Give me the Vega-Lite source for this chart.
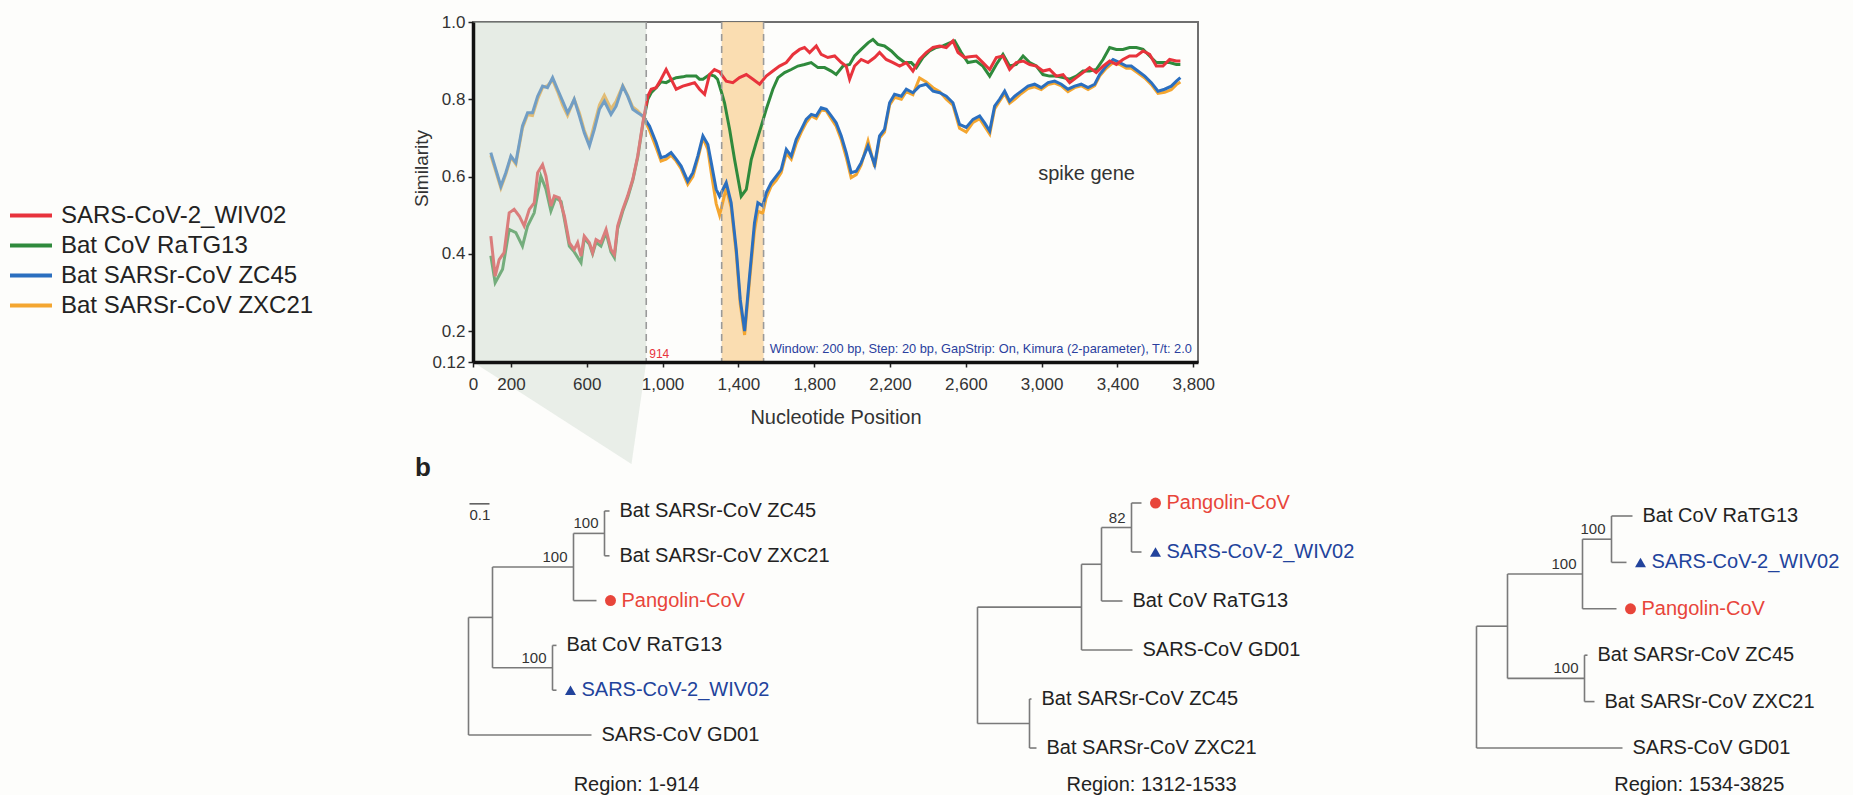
{
"$schema": "https://vega.github.io/schema/vega-lite/v6.json",
"background": "#fdfdfb",
"padding": {"left": 18, "top": 12, "right": 0, "bottom": 0},
"config": {"font": "Liberation Sans", "view": {"stroke": null}, "title": {"font": "Liberation Sans", "color": "#222", "fontWeight": "normal"}, "axisY": {"titleY": 146}},
"bounds": "flush",
"spacing": 119,
"resolve": {"scale": {"color": "independent", "x": "independent", "y": "independent", "shape": "independent"}, "legend": {"color": "independent", "shape": "independent"}},
"datasets": {
"sim": [
{"s":"SARS-CoV-2_WIV02","p":94,"v":0.446},{"s":"SARS-CoV-2_WIV02","p":117,"v":0.342},{"s":"SARS-CoV-2_WIV02","p":138,"v":0.385},{"s":"SARS-CoV-2_WIV02","p":164,"v":0.403},{"s":"SARS-CoV-2_WIV02","p":191,"v":0.506},{"s":"SARS-CoV-2_WIV02","p":217,"v":0.515},{"s":"SARS-CoV-2_WIV02","p":244,"v":0.498},{"s":"SARS-CoV-2_WIV02","p":270,"v":0.472},{"s":"SARS-CoV-2_WIV02","p":297,"v":0.515},{"s":"SARS-CoV-2_WIV02","p":323,"v":0.532},{"s":"SARS-CoV-2_WIV02","p":341,"v":0.61},{"s":"SARS-CoV-2_WIV02","p":367,"v":0.631},{"s":"SARS-CoV-2_WIV02","p":385,"v":0.601},{"s":"SARS-CoV-2_WIV02","p":411,"v":0.524},{"s":"SARS-CoV-2_WIV02","p":429,"v":0.55},{"s":"SARS-CoV-2_WIV02","p":455,"v":0.545},{"s":"SARS-CoV-2_WIV02","p":482,"v":0.498},{"s":"SARS-CoV-2_WIV02","p":508,"v":0.429},{"s":"SARS-CoV-2_WIV02","p":534,"v":0.411},{"s":"SARS-CoV-2_WIV02","p":552,"v":0.429},{"s":"SARS-CoV-2_WIV02","p":570,"v":0.394},{"s":"SARS-CoV-2_WIV02","p":587,"v":0.446},{"s":"SARS-CoV-2_WIV02","p":614,"v":0.429},{"s":"SARS-CoV-2_WIV02","p":631,"v":0.403},{"s":"SARS-CoV-2_WIV02","p":649,"v":0.437},{"s":"SARS-CoV-2_WIV02","p":675,"v":0.429},{"s":"SARS-CoV-2_WIV02","p":702,"v":0.463},{"s":"SARS-CoV-2_WIV02","p":728,"v":0.411},{"s":"SARS-CoV-2_WIV02","p":746,"v":0.398},{"s":"SARS-CoV-2_WIV02","p":763,"v":0.472},{"s":"SARS-CoV-2_WIV02","p":790,"v":0.515},{"s":"SARS-CoV-2_WIV02","p":816,"v":0.55},{"s":"SARS-CoV-2_WIV02","p":843,"v":0.593},{"s":"SARS-CoV-2_WIV02","p":869,"v":0.653},{"s":"SARS-CoV-2_WIV02","p":896,"v":0.739},{"s":"SARS-CoV-2_WIV02","p":922,"v":0.808},{"s":"SARS-CoV-2_WIV02","p":940,"v":0.826},{"s":"SARS-CoV-2_WIV02","p":966,"v":0.83},{"s":"SARS-CoV-2_WIV02","p":992,"v":0.852},{"s":"SARS-CoV-2_WIV02","p":1019,"v":0.877},{"s":"SARS-CoV-2_WIV02","p":1045,"v":0.852},{"s":"SARS-CoV-2_WIV02","p":1072,"v":0.826},{"s":"SARS-CoV-2_WIV02","p":1107,"v":0.834},{"s":"SARS-CoV-2_WIV02","p":1142,"v":0.839},{"s":"SARS-CoV-2_WIV02","p":1169,"v":0.843},{"s":"SARS-CoV-2_WIV02","p":1195,"v":0.826},{"s":"SARS-CoV-2_WIV02","p":1222,"v":0.813},{"s":"SARS-CoV-2_WIV02","p":1248,"v":0.864},{"s":"SARS-CoV-2_WIV02","p":1274,"v":0.877},{"s":"SARS-CoV-2_WIV02","p":1301,"v":0.871},{"s":"SARS-CoV-2_WIV02","p":1336,"v":0.847},{"s":"SARS-CoV-2_WIV02","p":1371,"v":0.843},{"s":"SARS-CoV-2_WIV02","p":1406,"v":0.856},{"s":"SARS-CoV-2_WIV02","p":1442,"v":0.864},{"s":"SARS-CoV-2_WIV02","p":1477,"v":0.852},{"s":"SARS-CoV-2_WIV02","p":1512,"v":0.839},{"s":"SARS-CoV-2_WIV02","p":1547,"v":0.86},{"s":"SARS-CoV-2_WIV02","p":1582,"v":0.873},{"s":"SARS-CoV-2_WIV02","p":1617,"v":0.886},{"s":"SARS-CoV-2_WIV02","p":1653,"v":0.895},{"s":"SARS-CoV-2_WIV02","p":1688,"v":0.916},{"s":"SARS-CoV-2_WIV02","p":1723,"v":0.929},{"s":"SARS-CoV-2_WIV02","p":1749,"v":0.934},{"s":"SARS-CoV-2_WIV02","p":1776,"v":0.921},{"s":"SARS-CoV-2_WIV02","p":1811,"v":0.938},{"s":"SARS-CoV-2_WIV02","p":1837,"v":0.916},{"s":"SARS-CoV-2_WIV02","p":1872,"v":0.908},{"s":"SARS-CoV-2_WIV02","p":1908,"v":0.912},{"s":"SARS-CoV-2_WIV02","p":1943,"v":0.895},{"s":"SARS-CoV-2_WIV02","p":1969,"v":0.886},{"s":"SARS-CoV-2_WIV02","p":1987,"v":0.852},{"s":"SARS-CoV-2_WIV02","p":2013,"v":0.886},{"s":"SARS-CoV-2_WIV02","p":2048,"v":0.903},{"s":"SARS-CoV-2_WIV02","p":2084,"v":0.895},{"s":"SARS-CoV-2_WIV02","p":2119,"v":0.908},{"s":"SARS-CoV-2_WIV02","p":2145,"v":0.921},{"s":"SARS-CoV-2_WIV02","p":2180,"v":0.903},{"s":"SARS-CoV-2_WIV02","p":2216,"v":0.895},{"s":"SARS-CoV-2_WIV02","p":2251,"v":0.886},{"s":"SARS-CoV-2_WIV02","p":2286,"v":0.895},{"s":"SARS-CoV-2_WIV02","p":2321,"v":0.873},{"s":"SARS-CoV-2_WIV02","p":2356,"v":0.903},{"s":"SARS-CoV-2_WIV02","p":2391,"v":0.921},{"s":"SARS-CoV-2_WIV02","p":2427,"v":0.934},{"s":"SARS-CoV-2_WIV02","p":2462,"v":0.938},{"s":"SARS-CoV-2_WIV02","p":2497,"v":0.934},{"s":"SARS-CoV-2_WIV02","p":2532,"v":0.951},{"s":"SARS-CoV-2_WIV02","p":2559,"v":0.921},{"s":"SARS-CoV-2_WIV02","p":2594,"v":0.908},{"s":"SARS-CoV-2_WIV02","p":2620,"v":0.91},{"s":"SARS-CoV-2_WIV02","p":2655,"v":0.912},{"s":"SARS-CoV-2_WIV02","p":2690,"v":0.895},{"s":"SARS-CoV-2_WIV02","p":2726,"v":0.877},{"s":"SARS-CoV-2_WIV02","p":2761,"v":0.908},{"s":"SARS-CoV-2_WIV02","p":2796,"v":0.912},{"s":"SARS-CoV-2_WIV02","p":2831,"v":0.877},{"s":"SARS-CoV-2_WIV02","p":2866,"v":0.895},{"s":"SARS-CoV-2_WIV02","p":2902,"v":0.899},{"s":"SARS-CoV-2_WIV02","p":2937,"v":0.89},{"s":"SARS-CoV-2_WIV02","p":2972,"v":0.886},{"s":"SARS-CoV-2_WIV02","p":3007,"v":0.873},{"s":"SARS-CoV-2_WIV02","p":3042,"v":0.877},{"s":"SARS-CoV-2_WIV02","p":3077,"v":0.86},{"s":"SARS-CoV-2_WIV02","p":3113,"v":0.864},{"s":"SARS-CoV-2_WIV02","p":3148,"v":0.843},{"s":"SARS-CoV-2_WIV02","p":3183,"v":0.856},{"s":"SARS-CoV-2_WIV02","p":3218,"v":0.869},{"s":"SARS-CoV-2_WIV02","p":3253,"v":0.882},{"s":"SARS-CoV-2_WIV02","p":3288,"v":0.869},{"s":"SARS-CoV-2_WIV02","p":3324,"v":0.886},{"s":"SARS-CoV-2_WIV02","p":3359,"v":0.899},{"s":"SARS-CoV-2_WIV02","p":3394,"v":0.89},{"s":"SARS-CoV-2_WIV02","p":3429,"v":0.903},{"s":"SARS-CoV-2_WIV02","p":3464,"v":0.912},{"s":"SARS-CoV-2_WIV02","p":3500,"v":0.912},{"s":"SARS-CoV-2_WIV02","p":3535,"v":0.925},{"s":"SARS-CoV-2_WIV02","p":3570,"v":0.916},{"s":"SARS-CoV-2_WIV02","p":3605,"v":0.886},{"s":"SARS-CoV-2_WIV02","p":3640,"v":0.886},{"s":"SARS-CoV-2_WIV02","p":3675,"v":0.903},{"s":"SARS-CoV-2_WIV02","p":3711,"v":0.899},{"s":"SARS-CoV-2_WIV02","p":3732,"v":0.899},
{"s":"Bat CoV RaTG13","p":94,"v":0.395},{"s":"Bat CoV RaTG13","p":117,"v":0.325},{"s":"Bat CoV RaTG13","p":156,"v":0.36},{"s":"Bat CoV RaTG13","p":191,"v":0.463},{"s":"Bat CoV RaTG13","p":226,"v":0.455},{"s":"Bat CoV RaTG13","p":261,"v":0.42},{"s":"Bat CoV RaTG13","p":288,"v":0.472},{"s":"Bat CoV RaTG13","p":323,"v":0.506},{"s":"Bat CoV RaTG13","p":358,"v":0.601},{"s":"Bat CoV RaTG13","p":385,"v":0.567},{"s":"Bat CoV RaTG13","p":411,"v":0.511},{"s":"Bat CoV RaTG13","p":437,"v":0.545},{"s":"Bat CoV RaTG13","p":465,"v":0.535},{"s":"Bat CoV RaTG13","p":482,"v":0.49},{"s":"Bat CoV RaTG13","p":508,"v":0.42},{"s":"Bat CoV RaTG13","p":534,"v":0.405},{"s":"Bat CoV RaTG13","p":570,"v":0.377},{"s":"Bat CoV RaTG13","p":587,"v":0.44},{"s":"Bat CoV RaTG13","p":614,"v":0.425},{"s":"Bat CoV RaTG13","p":631,"v":0.4},{"s":"Bat CoV RaTG13","p":649,"v":0.43},{"s":"Bat CoV RaTG13","p":675,"v":0.42},{"s":"Bat CoV RaTG13","p":702,"v":0.455},{"s":"Bat CoV RaTG13","p":728,"v":0.405},{"s":"Bat CoV RaTG13","p":746,"v":0.39},{"s":"Bat CoV RaTG13","p":763,"v":0.465},{"s":"Bat CoV RaTG13","p":790,"v":0.51},{"s":"Bat CoV RaTG13","p":816,"v":0.545},{"s":"Bat CoV RaTG13","p":843,"v":0.59},{"s":"Bat CoV RaTG13","p":869,"v":0.65},{"s":"Bat CoV RaTG13","p":896,"v":0.735},{"s":"Bat CoV RaTG13","p":922,"v":0.8},{"s":"Bat CoV RaTG13","p":940,"v":0.817},{"s":"Bat CoV RaTG13","p":966,"v":0.83},{"s":"Bat CoV RaTG13","p":992,"v":0.845},{"s":"Bat CoV RaTG13","p":1019,"v":0.843},{"s":"Bat CoV RaTG13","p":1045,"v":0.85},{"s":"Bat CoV RaTG13","p":1072,"v":0.856},{"s":"Bat CoV RaTG13","p":1107,"v":0.858},{"s":"Bat CoV RaTG13","p":1125,"v":0.86},{"s":"Bat CoV RaTG13","p":1160,"v":0.86},{"s":"Bat CoV RaTG13","p":1177,"v":0.86},{"s":"Bat CoV RaTG13","p":1195,"v":0.852},{"s":"Bat CoV RaTG13","p":1213,"v":0.852},{"s":"Bat CoV RaTG13","p":1248,"v":0.864},{"s":"Bat CoV RaTG13","p":1274,"v":0.86},{"s":"Bat CoV RaTG13","p":1290,"v":0.852},{"s":"Bat CoV RaTG13","p":1310,"v":0.82},{"s":"Bat CoV RaTG13","p":1327,"v":0.791},{"s":"Bat CoV RaTG13","p":1354,"v":0.722},{"s":"Bat CoV RaTG13","p":1380,"v":0.644},{"s":"Bat CoV RaTG13","p":1415,"v":0.549},{"s":"Bat CoV RaTG13","p":1442,"v":0.567},{"s":"Bat CoV RaTG13","p":1468,"v":0.644},{"s":"Bat CoV RaTG13","p":1494,"v":0.688},{"s":"Bat CoV RaTG13","p":1521,"v":0.731},{"s":"Bat CoV RaTG13","p":1547,"v":0.774},{"s":"Bat CoV RaTG13","p":1582,"v":0.826},{"s":"Bat CoV RaTG13","p":1609,"v":0.856},{"s":"Bat CoV RaTG13","p":1644,"v":0.869},{"s":"Bat CoV RaTG13","p":1679,"v":0.877},{"s":"Bat CoV RaTG13","p":1714,"v":0.886},{"s":"Bat CoV RaTG13","p":1749,"v":0.89},{"s":"Bat CoV RaTG13","p":1784,"v":0.895},{"s":"Bat CoV RaTG13","p":1820,"v":0.882},{"s":"Bat CoV RaTG13","p":1855,"v":0.882},{"s":"Bat CoV RaTG13","p":1890,"v":0.873},{"s":"Bat CoV RaTG13","p":1916,"v":0.864},{"s":"Bat CoV RaTG13","p":1952,"v":0.886},{"s":"Bat CoV RaTG13","p":1987,"v":0.89},{"s":"Bat CoV RaTG13","p":2013,"v":0.912},{"s":"Bat CoV RaTG13","p":2048,"v":0.929},{"s":"Bat CoV RaTG13","p":2084,"v":0.946},{"s":"Bat CoV RaTG13","p":2110,"v":0.955},{"s":"Bat CoV RaTG13","p":2136,"v":0.942},{"s":"Bat CoV RaTG13","p":2171,"v":0.938},{"s":"Bat CoV RaTG13","p":2207,"v":0.925},{"s":"Bat CoV RaTG13","p":2242,"v":0.908},{"s":"Bat CoV RaTG13","p":2277,"v":0.895},{"s":"Bat CoV RaTG13","p":2312,"v":0.895},{"s":"Bat CoV RaTG13","p":2339,"v":0.882},{"s":"Bat CoV RaTG13","p":2374,"v":0.908},{"s":"Bat CoV RaTG13","p":2409,"v":0.925},{"s":"Bat CoV RaTG13","p":2444,"v":0.934},{"s":"Bat CoV RaTG13","p":2479,"v":0.938},{"s":"Bat CoV RaTG13","p":2515,"v":0.946},{"s":"Bat CoV RaTG13","p":2541,"v":0.951},{"s":"Bat CoV RaTG13","p":2576,"v":0.921},{"s":"Bat CoV RaTG13","p":2611,"v":0.895},{"s":"Bat CoV RaTG13","p":2655,"v":0.899},{"s":"Bat CoV RaTG13","p":2690,"v":0.886},{"s":"Bat CoV RaTG13","p":2726,"v":0.86},{"s":"Bat CoV RaTG13","p":2761,"v":0.89},{"s":"Bat CoV RaTG13","p":2796,"v":0.916},{"s":"Bat CoV RaTG13","p":2831,"v":0.886},{"s":"Bat CoV RaTG13","p":2866,"v":0.89},{"s":"Bat CoV RaTG13","p":2902,"v":0.912},{"s":"Bat CoV RaTG13","p":2937,"v":0.895},{"s":"Bat CoV RaTG13","p":2972,"v":0.886},{"s":"Bat CoV RaTG13","p":3007,"v":0.864},{"s":"Bat CoV RaTG13","p":3042,"v":0.86},{"s":"Bat CoV RaTG13","p":3077,"v":0.86},{"s":"Bat CoV RaTG13","p":3113,"v":0.856},{"s":"Bat CoV RaTG13","p":3148,"v":0.852},{"s":"Bat CoV RaTG13","p":3183,"v":0.86},{"s":"Bat CoV RaTG13","p":3218,"v":0.873},{"s":"Bat CoV RaTG13","p":3253,"v":0.873},{"s":"Bat CoV RaTG13","p":3288,"v":0.877},{"s":"Bat CoV RaTG13","p":3324,"v":0.903},{"s":"Bat CoV RaTG13","p":3359,"v":0.934},{"s":"Bat CoV RaTG13","p":3394,"v":0.929},{"s":"Bat CoV RaTG13","p":3429,"v":0.929},{"s":"Bat CoV RaTG13","p":3464,"v":0.934},{"s":"Bat CoV RaTG13","p":3500,"v":0.934},{"s":"Bat CoV RaTG13","p":3535,"v":0.929},{"s":"Bat CoV RaTG13","p":3570,"v":0.912},{"s":"Bat CoV RaTG13","p":3605,"v":0.895},{"s":"Bat CoV RaTG13","p":3640,"v":0.895},{"s":"Bat CoV RaTG13","p":3675,"v":0.895},{"s":"Bat CoV RaTG13","p":3711,"v":0.89},{"s":"Bat CoV RaTG13","p":3732,"v":0.89},
{"s":"Bat SARSr-CoV ZC45","p":94,"v":0.662},{"s":"Bat SARSr-CoV ZC45","p":147,"v":0.575},{"s":"Bat SARSr-CoV ZC45","p":173,"v":0.61},{"s":"Bat SARSr-CoV ZC45","p":200,"v":0.653},{"s":"Bat SARSr-CoV ZC45","p":226,"v":0.636},{"s":"Bat SARSr-CoV ZC45","p":261,"v":0.731},{"s":"Bat SARSr-CoV ZC45","p":288,"v":0.765},{"s":"Bat SARSr-CoV ZC45","p":314,"v":0.765},{"s":"Bat SARSr-CoV ZC45","p":341,"v":0.808},{"s":"Bat SARSr-CoV ZC45","p":367,"v":0.834},{"s":"Bat SARSr-CoV ZC45","p":393,"v":0.83},{"s":"Bat SARSr-CoV ZC45","p":420,"v":0.856},{"s":"Bat SARSr-CoV ZC45","p":446,"v":0.826},{"s":"Bat SARSr-CoV ZC45","p":473,"v":0.795},{"s":"Bat SARSr-CoV ZC45","p":499,"v":0.765},{"s":"Bat SARSr-CoV ZC45","p":517,"v":0.782},{"s":"Bat SARSr-CoV ZC45","p":534,"v":0.8},{"s":"Bat SARSr-CoV ZC45","p":561,"v":0.757},{"s":"Bat SARSr-CoV ZC45","p":587,"v":0.713},{"s":"Bat SARSr-CoV ZC45","p":614,"v":0.679},{"s":"Bat SARSr-CoV ZC45","p":640,"v":0.722},{"s":"Bat SARSr-CoV ZC45","p":667,"v":0.774},{"s":"Bat SARSr-CoV ZC45","p":693,"v":0.795},{"s":"Bat SARSr-CoV ZC45","p":728,"v":0.761},{"s":"Bat SARSr-CoV ZC45","p":755,"v":0.782},{"s":"Bat SARSr-CoV ZC45","p":790,"v":0.834},{"s":"Bat SARSr-CoV ZC45","p":816,"v":0.808},{"s":"Bat SARSr-CoV ZC45","p":843,"v":0.774},{"s":"Bat SARSr-CoV ZC45","p":869,"v":0.765},{"s":"Bat SARSr-CoV ZC45","p":896,"v":0.757},{"s":"Bat SARSr-CoV ZC45","p":931,"v":0.731},{"s":"Bat SARSr-CoV ZC45","p":966,"v":0.688},{"s":"Bat SARSr-CoV ZC45","p":992,"v":0.649},{"s":"Bat SARSr-CoV ZC45","p":1019,"v":0.653},{"s":"Bat SARSr-CoV ZC45","p":1045,"v":0.662},{"s":"Bat SARSr-CoV ZC45","p":1072,"v":0.645},{"s":"Bat SARSr-CoV ZC45","p":1098,"v":0.627},{"s":"Bat SARSr-CoV ZC45","p":1133,"v":0.588},{"s":"Bat SARSr-CoV ZC45","p":1160,"v":0.61},{"s":"Bat SARSr-CoV ZC45","p":1186,"v":0.653},{"s":"Bat SARSr-CoV ZC45","p":1213,"v":0.705},{"s":"Bat SARSr-CoV ZC45","p":1239,"v":0.683},{"s":"Bat SARSr-CoV ZC45","p":1257,"v":0.636},{"s":"Bat SARSr-CoV ZC45","p":1283,"v":0.567},{"s":"Bat SARSr-CoV ZC45","p":1301,"v":0.549},{"s":"Bat SARSr-CoV ZC45","p":1336,"v":0.584},{"s":"Bat SARSr-CoV ZC45","p":1362,"v":0.532},{"s":"Bat SARSr-CoV ZC45","p":1389,"v":0.411},{"s":"Bat SARSr-CoV ZC45","p":1410,"v":0.282},{"s":"Bat SARSr-CoV ZC45","p":1433,"v":0.2},{"s":"Bat SARSr-CoV ZC45","p":1459,"v":0.342},{"s":"Bat SARSr-CoV ZC45","p":1485,"v":0.48},{"s":"Bat SARSr-CoV ZC45","p":1503,"v":0.532},{"s":"Bat SARSr-CoV ZC45","p":1529,"v":0.524},{"s":"Bat SARSr-CoV ZC45","p":1547,"v":0.558},{"s":"Bat SARSr-CoV ZC45","p":1573,"v":0.584},{"s":"Bat SARSr-CoV ZC45","p":1600,"v":0.601},{"s":"Bat SARSr-CoV ZC45","p":1626,"v":0.618},{"s":"Bat SARSr-CoV ZC45","p":1653,"v":0.67},{"s":"Bat SARSr-CoV ZC45","p":1679,"v":0.653},{"s":"Bat SARSr-CoV ZC45","p":1705,"v":0.696},{"s":"Bat SARSr-CoV ZC45","p":1732,"v":0.722},{"s":"Bat SARSr-CoV ZC45","p":1758,"v":0.748},{"s":"Bat SARSr-CoV ZC45","p":1785,"v":0.761},{"s":"Bat SARSr-CoV ZC45","p":1811,"v":0.757},{"s":"Bat SARSr-CoV ZC45","p":1837,"v":0.778},{"s":"Bat SARSr-CoV ZC45","p":1864,"v":0.774},{"s":"Bat SARSr-CoV ZC45","p":1890,"v":0.757},{"s":"Bat SARSr-CoV ZC45","p":1916,"v":0.739},{"s":"Bat SARSr-CoV ZC45","p":1943,"v":0.705},{"s":"Bat SARSr-CoV ZC45","p":1969,"v":0.662},{"s":"Bat SARSr-CoV ZC45","p":1995,"v":0.61},{"s":"Bat SARSr-CoV ZC45","p":2022,"v":0.614},{"s":"Bat SARSr-CoV ZC45","p":2048,"v":0.636},{"s":"Bat SARSr-CoV ZC45","p":2084,"v":0.679},{"s":"Bat SARSr-CoV ZC45","p":2119,"v":0.631},{"s":"Bat SARSr-CoV ZC45","p":2145,"v":0.705},{"s":"Bat SARSr-CoV ZC45","p":2171,"v":0.722},{"s":"Bat SARSr-CoV ZC45","p":2198,"v":0.791},{"s":"Bat SARSr-CoV ZC45","p":2224,"v":0.813},{"s":"Bat SARSr-CoV ZC45","p":2260,"v":0.808},{"s":"Bat SARSr-CoV ZC45","p":2286,"v":0.826},{"s":"Bat SARSr-CoV ZC45","p":2321,"v":0.817},{"s":"Bat SARSr-CoV ZC45","p":2356,"v":0.834},{"s":"Bat SARSr-CoV ZC45","p":2391,"v":0.839},{"s":"Bat SARSr-CoV ZC45","p":2427,"v":0.821},{"s":"Bat SARSr-CoV ZC45","p":2462,"v":0.817},{"s":"Bat SARSr-CoV ZC45","p":2497,"v":0.808},{"s":"Bat SARSr-CoV ZC45","p":2532,"v":0.791},{"s":"Bat SARSr-CoV ZC45","p":2567,"v":0.735},{"s":"Bat SARSr-CoV ZC45","p":2602,"v":0.727},{"s":"Bat SARSr-CoV ZC45","p":2638,"v":0.748},{"s":"Bat SARSr-CoV ZC45","p":2673,"v":0.757},{"s":"Bat SARSr-CoV ZC45","p":2699,"v":0.739},{"s":"Bat SARSr-CoV ZC45","p":2726,"v":0.718},{"s":"Bat SARSr-CoV ZC45","p":2752,"v":0.782},{"s":"Bat SARSr-CoV ZC45","p":2778,"v":0.8},{"s":"Bat SARSr-CoV ZC45","p":2805,"v":0.821},{"s":"Bat SARSr-CoV ZC45","p":2831,"v":0.795},{"s":"Bat SARSr-CoV ZC45","p":2858,"v":0.808},{"s":"Bat SARSr-CoV ZC45","p":2893,"v":0.821},{"s":"Bat SARSr-CoV ZC45","p":2928,"v":0.834},{"s":"Bat SARSr-CoV ZC45","p":2963,"v":0.839},{"s":"Bat SARSr-CoV ZC45","p":2998,"v":0.83},{"s":"Bat SARSr-CoV ZC45","p":3034,"v":0.843},{"s":"Bat SARSr-CoV ZC45","p":3069,"v":0.847},{"s":"Bat SARSr-CoV ZC45","p":3104,"v":0.839},{"s":"Bat SARSr-CoV ZC45","p":3139,"v":0.826},{"s":"Bat SARSr-CoV ZC45","p":3174,"v":0.834},{"s":"Bat SARSr-CoV ZC45","p":3209,"v":0.839},{"s":"Bat SARSr-CoV ZC45","p":3245,"v":0.83},{"s":"Bat SARSr-CoV ZC45","p":3280,"v":0.839},{"s":"Bat SARSr-CoV ZC45","p":3306,"v":0.864},{"s":"Bat SARSr-CoV ZC45","p":3341,"v":0.886},{"s":"Bat SARSr-CoV ZC45","p":3377,"v":0.903},{"s":"Bat SARSr-CoV ZC45","p":3412,"v":0.895},{"s":"Bat SARSr-CoV ZC45","p":3447,"v":0.886},{"s":"Bat SARSr-CoV ZC45","p":3473,"v":0.886},{"s":"Bat SARSr-CoV ZC45","p":3508,"v":0.873},{"s":"Bat SARSr-CoV ZC45","p":3544,"v":0.86},{"s":"Bat SARSr-CoV ZC45","p":3579,"v":0.843},{"s":"Bat SARSr-CoV ZC45","p":3614,"v":0.821},{"s":"Bat SARSr-CoV ZC45","p":3649,"v":0.826},{"s":"Bat SARSr-CoV ZC45","p":3684,"v":0.834},{"s":"Bat SARSr-CoV ZC45","p":3711,"v":0.847},{"s":"Bat SARSr-CoV ZC45","p":3732,"v":0.856},
{"s":"Bat SARSr-CoV ZXC21","p":94,"v":0.655},{"s":"Bat SARSr-CoV ZXC21","p":147,"v":0.57},{"s":"Bat SARSr-CoV ZXC21","p":173,"v":0.605},{"s":"Bat SARSr-CoV ZXC21","p":200,"v":0.65},{"s":"Bat SARSr-CoV ZXC21","p":226,"v":0.632},{"s":"Bat SARSr-CoV ZXC21","p":261,"v":0.725},{"s":"Bat SARSr-CoV ZXC21","p":288,"v":0.76},{"s":"Bat SARSr-CoV ZXC21","p":314,"v":0.758},{"s":"Bat SARSr-CoV ZXC21","p":341,"v":0.8},{"s":"Bat SARSr-CoV ZXC21","p":367,"v":0.83},{"s":"Bat SARSr-CoV ZXC21","p":393,"v":0.835},{"s":"Bat SARSr-CoV ZXC21","p":420,"v":0.85},{"s":"Bat SARSr-CoV ZXC21","p":446,"v":0.82},{"s":"Bat SARSr-CoV ZXC21","p":473,"v":0.785},{"s":"Bat SARSr-CoV ZXC21","p":499,"v":0.758},{"s":"Bat SARSr-CoV ZXC21","p":517,"v":0.78},{"s":"Bat SARSr-CoV ZXC21","p":534,"v":0.8},{"s":"Bat SARSr-CoV ZXC21","p":561,"v":0.765},{"s":"Bat SARSr-CoV ZXC21","p":587,"v":0.72},{"s":"Bat SARSr-CoV ZXC21","p":614,"v":0.685},{"s":"Bat SARSr-CoV ZXC21","p":640,"v":0.735},{"s":"Bat SARSr-CoV ZXC21","p":667,"v":0.785},{"s":"Bat SARSr-CoV ZXC21","p":693,"v":0.81},{"s":"Bat SARSr-CoV ZXC21","p":728,"v":0.775},{"s":"Bat SARSr-CoV ZXC21","p":755,"v":0.795},{"s":"Bat SARSr-CoV ZXC21","p":790,"v":0.835},{"s":"Bat SARSr-CoV ZXC21","p":816,"v":0.81},{"s":"Bat SARSr-CoV ZXC21","p":843,"v":0.78},{"s":"Bat SARSr-CoV ZXC21","p":869,"v":0.77},{"s":"Bat SARSr-CoV ZXC21","p":896,"v":0.755},{"s":"Bat SARSr-CoV ZXC21","p":931,"v":0.72},{"s":"Bat SARSr-CoV ZXC21","p":966,"v":0.675},{"s":"Bat SARSr-CoV ZXC21","p":992,"v":0.64},{"s":"Bat SARSr-CoV ZXC21","p":1019,"v":0.645},{"s":"Bat SARSr-CoV ZXC21","p":1045,"v":0.655},{"s":"Bat SARSr-CoV ZXC21","p":1072,"v":0.64},{"s":"Bat SARSr-CoV ZXC21","p":1098,"v":0.62},{"s":"Bat SARSr-CoV ZXC21","p":1133,"v":0.58},{"s":"Bat SARSr-CoV ZXC21","p":1160,"v":0.6},{"s":"Bat SARSr-CoV ZXC21","p":1186,"v":0.645},{"s":"Bat SARSr-CoV ZXC21","p":1213,"v":0.7},{"s":"Bat SARSr-CoV ZXC21","p":1239,"v":0.67},{"s":"Bat SARSr-CoV ZXC21","p":1257,"v":0.61},{"s":"Bat SARSr-CoV ZXC21","p":1283,"v":0.53},{"s":"Bat SARSr-CoV ZXC21","p":1301,"v":0.5},{"s":"Bat SARSr-CoV ZXC21","p":1336,"v":0.57},{"s":"Bat SARSr-CoV ZXC21","p":1362,"v":0.52},{"s":"Bat SARSr-CoV ZXC21","p":1389,"v":0.4},{"s":"Bat SARSr-CoV ZXC21","p":1410,"v":0.27},{"s":"Bat SARSr-CoV ZXC21","p":1433,"v":0.19},{"s":"Bat SARSr-CoV ZXC21","p":1459,"v":0.33},{"s":"Bat SARSr-CoV ZXC21","p":1485,"v":0.46},{"s":"Bat SARSr-CoV ZXC21","p":1503,"v":0.51},{"s":"Bat SARSr-CoV ZXC21","p":1529,"v":0.505},{"s":"Bat SARSr-CoV ZXC21","p":1547,"v":0.545},{"s":"Bat SARSr-CoV ZXC21","p":1573,"v":0.575},{"s":"Bat SARSr-CoV ZXC21","p":1600,"v":0.59},{"s":"Bat SARSr-CoV ZXC21","p":1626,"v":0.61},{"s":"Bat SARSr-CoV ZXC21","p":1653,"v":0.66},{"s":"Bat SARSr-CoV ZXC21","p":1679,"v":0.645},{"s":"Bat SARSr-CoV ZXC21","p":1705,"v":0.685},{"s":"Bat SARSr-CoV ZXC21","p":1732,"v":0.715},{"s":"Bat SARSr-CoV ZXC21","p":1758,"v":0.74},{"s":"Bat SARSr-CoV ZXC21","p":1785,"v":0.757},{"s":"Bat SARSr-CoV ZXC21","p":1811,"v":0.75},{"s":"Bat SARSr-CoV ZXC21","p":1837,"v":0.772},{"s":"Bat SARSr-CoV ZXC21","p":1864,"v":0.77},{"s":"Bat SARSr-CoV ZXC21","p":1890,"v":0.75},{"s":"Bat SARSr-CoV ZXC21","p":1916,"v":0.73},{"s":"Bat SARSr-CoV ZXC21","p":1943,"v":0.695},{"s":"Bat SARSr-CoV ZXC21","p":1969,"v":0.65},{"s":"Bat SARSr-CoV ZXC21","p":1995,"v":0.597},{"s":"Bat SARSr-CoV ZXC21","p":2022,"v":0.605},{"s":"Bat SARSr-CoV ZXC21","p":2048,"v":0.63},{"s":"Bat SARSr-CoV ZXC21","p":2084,"v":0.692},{"s":"Bat SARSr-CoV ZXC21","p":2119,"v":0.625},{"s":"Bat SARSr-CoV ZXC21","p":2145,"v":0.7},{"s":"Bat SARSr-CoV ZXC21","p":2171,"v":0.715},{"s":"Bat SARSr-CoV ZXC21","p":2198,"v":0.785},{"s":"Bat SARSr-CoV ZXC21","p":2224,"v":0.805},{"s":"Bat SARSr-CoV ZXC21","p":2260,"v":0.8},{"s":"Bat SARSr-CoV ZXC21","p":2286,"v":0.82},{"s":"Bat SARSr-CoV ZXC21","p":2321,"v":0.812},{"s":"Bat SARSr-CoV ZXC21","p":2356,"v":0.855},{"s":"Bat SARSr-CoV ZXC21","p":2391,"v":0.845},{"s":"Bat SARSr-CoV ZXC21","p":2427,"v":0.83},{"s":"Bat SARSr-CoV ZXC21","p":2462,"v":0.82},{"s":"Bat SARSr-CoV ZXC21","p":2497,"v":0.8},{"s":"Bat SARSr-CoV ZXC21","p":2532,"v":0.785},{"s":"Bat SARSr-CoV ZXC21","p":2567,"v":0.725},{"s":"Bat SARSr-CoV ZXC21","p":2602,"v":0.715},{"s":"Bat SARSr-CoV ZXC21","p":2638,"v":0.74},{"s":"Bat SARSr-CoV ZXC21","p":2673,"v":0.75},{"s":"Bat SARSr-CoV ZXC21","p":2699,"v":0.73},{"s":"Bat SARSr-CoV ZXC21","p":2726,"v":0.71},{"s":"Bat SARSr-CoV ZXC21","p":2752,"v":0.775},{"s":"Bat SARSr-CoV ZXC21","p":2778,"v":0.795},{"s":"Bat SARSr-CoV ZXC21","p":2805,"v":0.815},{"s":"Bat SARSr-CoV ZXC21","p":2831,"v":0.79},{"s":"Bat SARSr-CoV ZXC21","p":2858,"v":0.8},{"s":"Bat SARSr-CoV ZXC21","p":2893,"v":0.815},{"s":"Bat SARSr-CoV ZXC21","p":2928,"v":0.828},{"s":"Bat SARSr-CoV ZXC21","p":2963,"v":0.832},{"s":"Bat SARSr-CoV ZXC21","p":2998,"v":0.825},{"s":"Bat SARSr-CoV ZXC21","p":3034,"v":0.838},{"s":"Bat SARSr-CoV ZXC21","p":3069,"v":0.842},{"s":"Bat SARSr-CoV ZXC21","p":3104,"v":0.835},{"s":"Bat SARSr-CoV ZXC21","p":3139,"v":0.82},{"s":"Bat SARSr-CoV ZXC21","p":3174,"v":0.83},{"s":"Bat SARSr-CoV ZXC21","p":3209,"v":0.835},{"s":"Bat SARSr-CoV ZXC21","p":3245,"v":0.825},{"s":"Bat SARSr-CoV ZXC21","p":3280,"v":0.835},{"s":"Bat SARSr-CoV ZXC21","p":3306,"v":0.86},{"s":"Bat SARSr-CoV ZXC21","p":3341,"v":0.88},{"s":"Bat SARSr-CoV ZXC21","p":3377,"v":0.895},{"s":"Bat SARSr-CoV ZXC21","p":3412,"v":0.89},{"s":"Bat SARSr-CoV ZXC21","p":3447,"v":0.88},{"s":"Bat SARSr-CoV ZXC21","p":3473,"v":0.88},{"s":"Bat SARSr-CoV ZXC21","p":3508,"v":0.868},{"s":"Bat SARSr-CoV ZXC21","p":3544,"v":0.855},{"s":"Bat SARSr-CoV ZXC21","p":3579,"v":0.838},{"s":"Bat SARSr-CoV ZXC21","p":3614,"v":0.815},{"s":"Bat SARSr-CoV ZXC21","p":3649,"v":0.818},{"s":"Bat SARSr-CoV ZXC21","p":3684,"v":0.825},{"s":"Bat SARSr-CoV ZXC21","p":3711,"v":0.838},{"s":"Bat SARSr-CoV ZXC21","p":3732,"v":0.845}
],
"regions": [{"kind":"shade","start":0,"end":914},{"kind":"band","start":1312,"end":1533}],
"wedge": [{"p":0,"top":0.12,"bot":0.12},{"p":836,"top":0.12,"bot":-0.144},{"p":914,"top":0.12,"bot":0.12}],
"cuts": [{"pos":914},{"pos":1312},{"pos":1533}],
"notes": [{"kind":"cut","pos":914,"sim":0.141,"label":"914"},{"kind":"params","pos":1565,"sim":0.154,"label":"Window: 200 bp, Step: 20 bp, GapStrip: On, Kimura (2-parameter), T/t: 2.0"},{"kind":"gene","pos":3237,"sim":0.607,"label":"spike gene"}],
"edges": [
{"tree":1,"x":0,"x2":0.12,"y":2.375,"y2":2.375},{"tree":1,"x":0.12,"x2":0.12,"y":1.25,"y2":3.5},{"tree":1,"x":0.12,"x2":0.525,"y":1.25,"y2":1.25},{"tree":1,"x":0.525,"x2":0.525,"y":0.5,"y2":2},{"tree":1,"x":0.525,"x2":0.68,"y":0.5,"y2":0.5},{"tree":1,"x":0.68,"x2":0.68,"y":0,"y2":1},{"tree":1,"x":0.68,"x2":0.705,"y":0,"y2":0},{"tree":1,"x":0.68,"x2":0.705,"y":1,"y2":1},{"tree":1,"x":0.525,"x2":0.64,"y":2,"y2":2},{"tree":1,"x":0.12,"x2":0.42,"y":3.5,"y2":3.5},{"tree":1,"x":0.42,"x2":0.42,"y":3,"y2":4},{"tree":1,"x":0.42,"x2":0.44,"y":3,"y2":3},{"tree":1,"x":0.42,"x2":0.44,"y":4,"y2":4},{"tree":1,"x":0,"x2":0,"y":2.375,"y2":5},{"tree":1,"x":0,"x2":0.615,"y":5,"y2":5},
{"tree":2,"x":0,"x2":0.52,"y":2.125,"y2":2.125},{"tree":2,"x":0.52,"x2":0.52,"y":1.25,"y2":3},{"tree":2,"x":0.52,"x2":0.62,"y":1.25,"y2":1.25},{"tree":2,"x":0.62,"x2":0.62,"y":0.5,"y2":2},{"tree":2,"x":0.62,"x2":0.77,"y":0.5,"y2":0.5},{"tree":2,"x":0.77,"x2":0.77,"y":0,"y2":1},{"tree":2,"x":0.77,"x2":0.82,"y":0,"y2":0},{"tree":2,"x":0.77,"x2":0.82,"y":1,"y2":1},{"tree":2,"x":0.62,"x2":0.725,"y":2,"y2":2},{"tree":2,"x":0.52,"x2":0.775,"y":3,"y2":3},{"tree":2,"x":0,"x2":0,"y":2.125,"y2":4.5},{"tree":2,"x":0,"x2":0.26,"y":4.5,"y2":4.5},{"tree":2,"x":0.26,"x2":0.26,"y":4,"y2":5},{"tree":2,"x":0.26,"x2":0.27,"y":4,"y2":4},{"tree":2,"x":0.26,"x2":0.295,"y":5,"y2":5},
{"tree":3,"x":0,"x2":0.155,"y":2.375,"y2":2.375},{"tree":3,"x":0.155,"x2":0.155,"y":1.25,"y2":3.5},{"tree":3,"x":0.155,"x2":0.53,"y":1.25,"y2":1.25},{"tree":3,"x":0.53,"x2":0.53,"y":0.5,"y2":2},{"tree":3,"x":0.53,"x2":0.675,"y":0.5,"y2":0.5},{"tree":3,"x":0.675,"x2":0.675,"y":0,"y2":1},{"tree":3,"x":0.675,"x2":0.78,"y":0,"y2":0},{"tree":3,"x":0.675,"x2":0.75,"y":1,"y2":1},{"tree":3,"x":0.53,"x2":0.7,"y":2,"y2":2},{"tree":3,"x":0.155,"x2":0.54,"y":3.5,"y2":3.5},{"tree":3,"x":0.54,"x2":0.54,"y":3,"y2":4},{"tree":3,"x":0.54,"x2":0.555,"y":3,"y2":3},{"tree":3,"x":0.54,"x2":0.59,"y":4,"y2":4},{"tree":3,"x":0,"x2":0,"y":2.375,"y2":5},{"tree":3,"x":0,"x2":0.73,"y":5,"y2":5}
],
"leaves": [
{"tree":1,"name":"Bat SARSr-CoV ZC45","x":0.705,"y":0,"kind":"plain"},{"tree":1,"name":"Bat SARSr-CoV ZXC21","x":0.705,"y":1,"kind":"plain"},{"tree":1,"name":"Pangolin-CoV","x":0.64,"y":2,"kind":"pangolin"},{"tree":1,"name":"Bat CoV RaTG13","x":0.44,"y":3,"kind":"plain"},{"tree":1,"name":"SARS-CoV-2_WIV02","x":0.44,"y":4,"kind":"sars2"},{"tree":1,"name":"SARS-CoV GD01","x":0.615,"y":5,"kind":"plain"},
{"tree":2,"name":"Pangolin-CoV","x":0.82,"y":0,"kind":"pangolin"},{"tree":2,"name":"SARS-CoV-2_WIV02","x":0.82,"y":1,"kind":"sars2"},{"tree":2,"name":"Bat CoV RaTG13","x":0.725,"y":2,"kind":"plain"},{"tree":2,"name":"SARS-CoV GD01","x":0.775,"y":3,"kind":"plain"},{"tree":2,"name":"Bat SARSr-CoV ZC45","x":0.27,"y":4,"kind":"plain"},{"tree":2,"name":"Bat SARSr-CoV ZXC21","x":0.295,"y":5,"kind":"plain"},
{"tree":3,"name":"Bat CoV RaTG13","x":0.78,"y":0,"kind":"plain"},{"tree":3,"name":"SARS-CoV-2_WIV02","x":0.75,"y":1,"kind":"sars2"},{"tree":3,"name":"Pangolin-CoV","x":0.7,"y":2,"kind":"pangolin"},{"tree":3,"name":"Bat SARSr-CoV ZC45","x":0.555,"y":3,"kind":"plain"},{"tree":3,"name":"Bat SARSr-CoV ZXC21","x":0.59,"y":4,"kind":"plain"},{"tree":3,"name":"SARS-CoV GD01","x":0.73,"y":5,"kind":"plain"}
],
"boots": [
{"tree":1,"x":0.68,"y":0.5,"label":"100"},{"tree":1,"x":0.525,"y":1.25,"label":"100"},{"tree":1,"x":0.42,"y":3.5,"label":"100"},
{"tree":2,"x":0.77,"y":0.5,"label":"82"},
{"tree":3,"x":0.675,"y":0.5,"label":"100"},{"tree":3,"x":0.53,"y":1.25,"label":"100"},{"tree":3,"x":0.54,"y":3.5,"label":"100"}
],
"scalebar": [{"tree":1,"x":0.005,"x2":0.105,"y":-0.16,"label":"0.1"}]
},
"vconcat": [
{
"width": 725, "height": 340,
"view": {"stroke": "#6f6f6f", "strokeWidth": 2},
"layer": [
{"data": {"name": "wedge"},
 "mark": {"type": "area", "color": "#dfe7df", "opacity": 0.7},
 "encoding": {
  "x": {"field": "p", "type": "quantitative", "title": "Nucleotide Position", "scale": {"domain": [0, 3825], "nice": false, "zero": false}},
  "y": {"field": "top", "type": "quantitative", "title": "Similarity", "scale": {"domain": [0.12, 1], "nice": false, "zero": false}},
  "y2": {"field": "bot"}}},
{"data": {"name": "regions"}, "transform": [{"filter": "datum.kind == 'band'"}],
 "mark": {"type": "rect", "color": "#f9d9a9", "opacity": 0.9},
 "encoding": {
  "x": {"field": "start", "type": "quantitative", "title": "Nucleotide Position", "scale": {"domain": [0, 3825], "nice": false, "zero": false},
        "axis": {"zindex": 1, "values": [0,200,600,1000,1400,1800,2200,2600,3000,3400,3800], "format": ",d", "labelFontSize": 17, "labelColor": "#333", "labelFlush": false, "labelOverlap": false, "labelPadding": 9, "tickColor": "#222", "tickSize": 5, "tickWidth": 1.5, "domainColor": "#111", "domainWidth": 3.5, "grid": false, "titleFontSize": 20, "titleFontWeight": "normal", "titleColor": "#333", "titlePadding": 15}},
  "x2": {"field": "end"}}},
{"data": {"name": "sim"}, "transform": [{"filter": "datum.s == 'Bat SARSr-CoV ZXC21'"}],
 "mark": {"type": "line", "strokeWidth": 3},
 "encoding": {
  "x": {"field": "p", "type": "quantitative", "title": "Nucleotide Position", "scale": {"domain": [0, 3825], "nice": false, "zero": false}},
  "y": {"field": "v", "type": "quantitative", "title": "Similarity", "scale": {"domain": [0.12, 1], "nice": false, "zero": false},
        "axis": {"zindex": 1, "values": [0.12, 0.2, 0.4, 0.6, 0.8, 1], "labelExpr": "datum.value == 1 ? '1.0' : format(datum.value, '.2~f')", "labelFontSize": 17, "labelColor": "#333", "labelPadding": 3, "labelFlush": false, "labelOverlap": false, "tickColor": "#222", "tickSize": 5, "tickWidth": 1.5, "domainColor": "#111", "domainWidth": 3.5, "grid": false, "titleFontSize": 19, "titleFontWeight": "normal", "titleColor": "#333", "titlePadding": 0, "titleY": 146}},
  "color": {"field": "s", "type": "nominal", "scale": {"domain": ["SARS-CoV-2_WIV02","Bat CoV RaTG13","Bat SARSr-CoV ZC45","Bat SARSr-CoV ZXC21"], "range": ["#e8333c","#2f8a3c","#2b6fbf","#f4a630"]},
            "legend": {"orient": "none", "legendX": -454, "legendY": 181.5, "title": null, "symbolType": "M-3,0H3", "symbolSize": 196, "symbolStrokeWidth": 4, "labelFontSize": 24, "labelOffset": 18, "rowPadding": 6, "padding": 0, "labelColor": "#222", "labelLimit": 400}}}},
{"data": {"name": "sim"}, "transform": [{"filter": "datum.s == 'Bat SARSr-CoV ZC45'"}],
 "mark": {"type": "line", "strokeWidth": 3},
 "encoding": {
  "x": {"field": "p", "type": "quantitative", "title": "Nucleotide Position", "scale": {"domain": [0, 3825], "nice": false, "zero": false}},
  "y": {"field": "v", "type": "quantitative", "title": "Similarity", "scale": {"domain": [0.12, 1], "nice": false, "zero": false}},
  "color": {"field": "s", "type": "nominal"}}},
{"data": {"name": "sim"}, "transform": [{"filter": "datum.s == 'Bat CoV RaTG13'"}],
 "mark": {"type": "line", "strokeWidth": 3},
 "encoding": {
  "x": {"field": "p", "type": "quantitative", "title": "Nucleotide Position", "scale": {"domain": [0, 3825], "nice": false, "zero": false}},
  "y": {"field": "v", "type": "quantitative", "title": "Similarity", "scale": {"domain": [0.12, 1], "nice": false, "zero": false}},
  "color": {"field": "s", "type": "nominal"}}},
{"data": {"name": "sim"}, "transform": [{"filter": "datum.s == 'SARS-CoV-2_WIV02'"}],
 "mark": {"type": "line", "strokeWidth": 3},
 "encoding": {
  "x": {"field": "p", "type": "quantitative", "title": "Nucleotide Position", "scale": {"domain": [0, 3825], "nice": false, "zero": false}},
  "y": {"field": "v", "type": "quantitative", "title": "Similarity", "scale": {"domain": [0.12, 1], "nice": false, "zero": false}},
  "color": {"field": "s", "type": "nominal"}}},
{"data": {"name": "regions"}, "transform": [{"filter": "datum.kind == 'shade'"}],
 "mark": {"type": "rect", "color": "#cad8ca", "opacity": 0.45},
 "encoding": {
  "x": {"field": "start", "type": "quantitative", "title": "Nucleotide Position", "scale": {"domain": [0, 3825], "nice": false, "zero": false}},
  "x2": {"field": "end"}}},
{"data": {"name": "cuts"},
 "mark": {"type": "rule", "color": "#9a9a9a", "strokeWidth": 1.6, "strokeDash": [7, 5]},
 "encoding": {"x": {"field": "pos", "type": "quantitative", "title": "Nucleotide Position", "scale": {"domain": [0, 3825], "nice": false, "zero": false}}}},
{"data": {"name": "notes"}, "transform": [{"filter": "datum.kind == 'cut'"}],
 "mark": {"type": "text", "align": "left", "baseline": "middle", "dx": 3, "fontSize": 12, "color": "#e8333c"},
 "encoding": {"x": {"field": "pos", "type": "quantitative", "title": "Nucleotide Position", "scale": {"domain": [0, 3825], "nice": false, "zero": false}},
  "y": {"field": "sim", "type": "quantitative", "title": "Similarity", "scale": {"domain": [0.12, 1], "nice": false, "zero": false}},
  "text": {"field": "label"}}},
{"data": {"name": "notes"}, "transform": [{"filter": "datum.kind == 'params'"}],
 "mark": {"type": "text", "align": "left", "baseline": "middle", "fontSize": 12.8, "color": "#2a3f9e"},
 "encoding": {"x": {"field": "pos", "type": "quantitative", "title": "Nucleotide Position", "scale": {"domain": [0, 3825], "nice": false, "zero": false}},
  "y": {"field": "sim", "type": "quantitative", "title": "Similarity", "scale": {"domain": [0.12, 1], "nice": false, "zero": false}},
  "text": {"field": "label"}}},
{"data": {"name": "notes"}, "transform": [{"filter": "datum.kind == 'gene'"}],
 "mark": {"type": "text", "align": "center", "baseline": "middle", "fontSize": 20, "color": "#333"},
 "encoding": {"x": {"field": "pos", "type": "quantitative", "title": "Nucleotide Position", "scale": {"domain": [0, 3825], "nice": false, "zero": false}},
  "y": {"field": "sim", "type": "quantitative", "title": "Similarity", "scale": {"domain": [0.12, 1], "nice": false, "zero": false}},
  "text": {"field": "label"}}}
]
},
{
"bounds": "flush",
"spacing": 0,
"title": {"text": "b", "anchor": "start", "frame": "group", "dx": -58, "offset": 0, "fontSize": 26, "fontWeight": "bold", "color": "#222"},
"resolve": {"scale": {"color": "independent", "x": "independent", "y": "independent", "shape": "independent"}, "legend": {"color": "independent", "shape": "independent"}},
"hconcat": [
{
"width": 487, "height": 285,
"title": {"text": "Region: 1-914", "orient": "bottom", "anchor": "middle", "dx": -80, "offset": 9, "fontSize": 20, "fontWeight": "normal", "color": "#222"},
"layer": [
{"data": {"name": "edges"}, "transform": [{"filter": "datum.tree == 1"}],
 "mark": {"type": "rule", "color": "#7a7a7a", "strokeWidth": 1.6},
 "encoding": {"x": {"field": "x", "type": "quantitative", "scale": {"domain": [0.0225, 2.4575], "nice": false, "zero": false}, "axis": null},
  "x2": {"field": "x2"},
  "y": {"field": "y", "type": "quantitative", "scale": {"domain": [-0.6696, 5.692], "reverse": true, "nice": false, "zero": false}, "axis": null},
  "y2": {"field": "y2"}}},
{"data": {"name": "scalebar"}, "transform": [{"filter": "datum.tree == 1"}],
 "mark": {"type": "rule", "color": "#555", "strokeWidth": 1.5},
 "encoding": {"x": {"field": "x", "type": "quantitative"}, "x2": {"field": "x2"}, "y": {"field": "y", "type": "quantitative"}}},
{"data": {"name": "scalebar"}, "transform": [{"filter": "datum.tree == 1"}],
 "mark": {"type": "text", "align": "left", "baseline": "top", "dy": 4, "fontSize": 15, "color": "#333"},
 "encoding": {"x": {"field": "x", "type": "quantitative"}, "y": {"field": "y", "type": "quantitative"}, "text": {"field": "label"}}},
{"data": {"name": "leaves"}, "transform": [{"filter": "datum.tree == 1 && datum.kind == 'plain'"}],
 "mark": {"type": "text", "align": "left", "baseline": "middle", "dx": 10, "fontSize": 20},
 "encoding": {"x": {"field": "x", "type": "quantitative"}, "y": {"field": "y", "type": "quantitative"}, "text": {"field": "name"},
  "color": {"field": "kind", "type": "nominal", "scale": {"domain": ["plain","pangolin","sars2"], "range": ["#222222","#e8453a","#22439c"]}, "legend": null}}},
{"data": {"name": "leaves"}, "transform": [{"filter": "datum.tree == 1 && datum.kind != 'plain'"}],
 "mark": {"type": "text", "align": "left", "baseline": "middle", "dx": 25, "fontSize": 20},
 "encoding": {"x": {"field": "x", "type": "quantitative"}, "y": {"field": "y", "type": "quantitative"}, "text": {"field": "name"},
  "color": {"field": "kind", "type": "nominal", "legend": null}}},
{"data": {"name": "leaves"}, "transform": [{"filter": "datum.tree == 1 && datum.kind != 'plain'"}],
 "mark": {"type": "point", "filled": true, "size": 120, "opacity": 1, "xOffset": 14},
 "encoding": {"x": {"field": "x", "type": "quantitative"}, "y": {"field": "y", "type": "quantitative"},
  "shape": {"field": "kind", "type": "nominal", "scale": {"domain": ["pangolin","sars2"], "range": ["circle","triangle-up"]}, "legend": null},
  "color": {"field": "kind", "type": "nominal", "legend": null}}},
{"data": {"name": "boots"}, "transform": [{"filter": "datum.tree == 1"}],
 "mark": {"type": "text", "align": "right", "baseline": "bottom", "dx": -6, "dy": -2, "fontSize": 15, "color": "#333"},
 "encoding": {"x": {"field": "x", "type": "quantitative"}, "y": {"field": "y", "type": "quantitative"}, "text": {"field": "label"}}}
]
},
{
"width": 500, "height": 285,
"title": {"text": "Region: 1312-1533", "orient": "bottom", "anchor": "middle", "dx": -58.5, "offset": 9, "fontSize": 20, "fontWeight": "normal", "color": "#222"},
"layer": [
{"data": {"name": "edges"}, "transform": [{"filter": "datum.tree == 2"}],
 "mark": {"type": "rule", "color": "#7a7a7a", "strokeWidth": 1.6},
 "encoding": {"x": {"field": "x", "type": "quantitative", "scale": {"domain": [-0.0875, 2.4125], "nice": false, "zero": false}, "axis": null},
  "x2": {"field": "x2"},
  "y": {"field": "y", "type": "quantitative", "scale": {"domain": [-0.449, 5.367], "reverse": true, "nice": false, "zero": false}, "axis": null},
  "y2": {"field": "y2"}}},
{"data": {"name": "leaves"}, "transform": [{"filter": "datum.tree == 2 && datum.kind == 'plain'"}],
 "mark": {"type": "text", "align": "left", "baseline": "middle", "dx": 10, "fontSize": 20},
 "encoding": {"x": {"field": "x", "type": "quantitative"}, "y": {"field": "y", "type": "quantitative"}, "text": {"field": "name"},
  "color": {"field": "kind", "type": "nominal", "scale": {"domain": ["plain","pangolin","sars2"], "range": ["#222222","#e8453a","#22439c"]}, "legend": null}}},
{"data": {"name": "leaves"}, "transform": [{"filter": "datum.tree == 2 && datum.kind != 'plain'"}],
 "mark": {"type": "text", "align": "left", "baseline": "middle", "dx": 25, "fontSize": 20},
 "encoding": {"x": {"field": "x", "type": "quantitative"}, "y": {"field": "y", "type": "quantitative"}, "text": {"field": "name"},
  "color": {"field": "kind", "type": "nominal", "legend": null}}},
{"data": {"name": "leaves"}, "transform": [{"filter": "datum.tree == 2 && datum.kind != 'plain'"}],
 "mark": {"type": "point", "filled": true, "size": 120, "opacity": 1, "xOffset": 14},
 "encoding": {"x": {"field": "x", "type": "quantitative"}, "y": {"field": "y", "type": "quantitative"},
  "shape": {"field": "kind", "type": "nominal", "scale": {"domain": ["pangolin","sars2"], "range": ["circle","triangle-up"]}, "legend": null},
  "color": {"field": "kind", "type": "nominal", "legend": null}}},
{"data": {"name": "boots"}, "transform": [{"filter": "datum.tree == 2"}],
 "mark": {"type": "text", "align": "right", "baseline": "bottom", "dx": -6, "dy": -2, "fontSize": 15, "color": "#333"},
 "encoding": {"x": {"field": "x", "type": "quantitative"}, "y": {"field": "y", "type": "quantitative"}, "text": {"field": "label"}}}
]
},
{
"width": 392.5, "height": 285,
"title": {"text": "Region: 1534-3825", "orient": "bottom", "anchor": "middle", "dx": 43, "offset": 9, "fontSize": 20, "fontWeight": "normal", "color": "#222"},
"layer": [
{"data": {"name": "edges"}, "transform": [{"filter": "datum.tree == 3"}],
 "mark": {"type": "rule", "color": "#7a7a7a", "strokeWidth": 1.6},
 "encoding": {"x": {"field": "x", "type": "quantitative", "scale": {"domain": [-0.0825, 1.88], "nice": false, "zero": false}, "axis": null},
  "x2": {"field": "x2"},
  "y": {"field": "y", "type": "quantitative", "scale": {"domain": [-0.7543, 5.388], "reverse": true, "nice": false, "zero": false}, "axis": null},
  "y2": {"field": "y2"}}},
{"data": {"name": "leaves"}, "transform": [{"filter": "datum.tree == 3 && datum.kind == 'plain'"}],
 "mark": {"type": "text", "align": "left", "baseline": "middle", "dx": 10, "fontSize": 20},
 "encoding": {"x": {"field": "x", "type": "quantitative"}, "y": {"field": "y", "type": "quantitative"}, "text": {"field": "name"},
  "color": {"field": "kind", "type": "nominal", "scale": {"domain": ["plain","pangolin","sars2"], "range": ["#222222","#e8453a","#22439c"]}, "legend": null}}},
{"data": {"name": "leaves"}, "transform": [{"filter": "datum.tree == 3 && datum.kind != 'plain'"}],
 "mark": {"type": "text", "align": "left", "baseline": "middle", "dx": 25, "fontSize": 20},
 "encoding": {"x": {"field": "x", "type": "quantitative"}, "y": {"field": "y", "type": "quantitative"}, "text": {"field": "name"},
  "color": {"field": "kind", "type": "nominal", "legend": null}}},
{"data": {"name": "leaves"}, "transform": [{"filter": "datum.tree == 3 && datum.kind != 'plain'"}],
 "mark": {"type": "point", "filled": true, "size": 120, "opacity": 1, "xOffset": 14},
 "encoding": {"x": {"field": "x", "type": "quantitative"}, "y": {"field": "y", "type": "quantitative"},
  "shape": {"field": "kind", "type": "nominal", "scale": {"domain": ["pangolin","sars2"], "range": ["circle","triangle-up"]}, "legend": null},
  "color": {"field": "kind", "type": "nominal", "legend": null}}},
{"data": {"name": "boots"}, "transform": [{"filter": "datum.tree == 3"}],
 "mark": {"type": "text", "align": "right", "baseline": "bottom", "dx": -6, "dy": -2, "fontSize": 15, "color": "#333"},
 "encoding": {"x": {"field": "x", "type": "quantitative"}, "y": {"field": "y", "type": "quantitative"}, "text": {"field": "label"}}}
]
}
]
}
]
}
